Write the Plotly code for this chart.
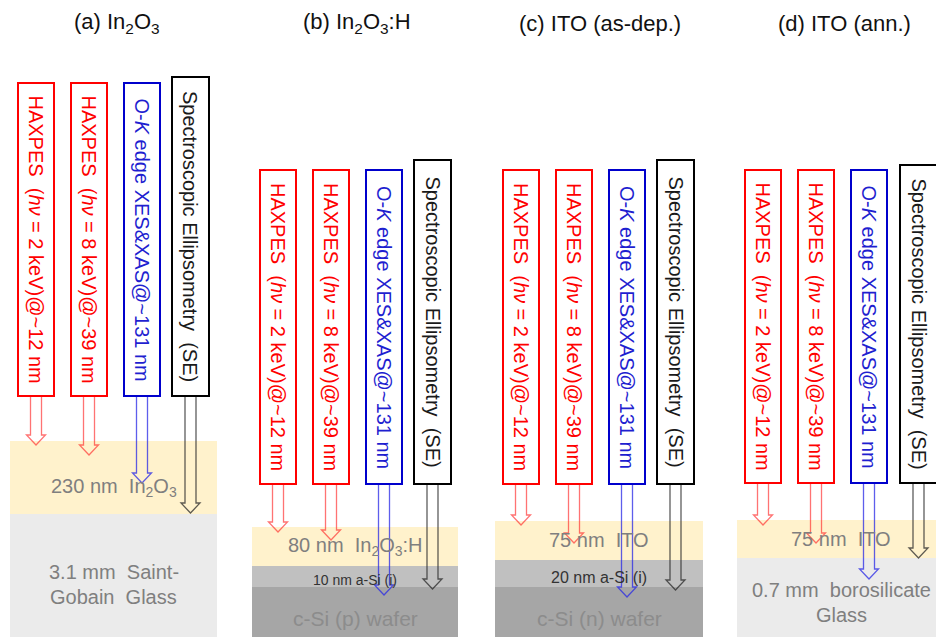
import plotly.graph_objects as go

W, H = 936, 637

# ---- content -------------------------------------------------------------
panel_titles = [
    "(a) In<sub>2</sub>O<sub>3</sub>",
    "(b) In<sub>2</sub>O<sub>3</sub>:H",
    "(c) ITO (as-dep.)",
    "(d) ITO (ann.)",
]

probe_labels = [
    "HAXPES  (<i>hν</i> = 2 keV)@~12 nm",
    "HAXPES  (<i>hν</i> = 8 keV)@~39 nm",
    "O-<i>K</i> edge XES&amp;XAS@~131 nm",
    "Spectroscopic Ellipsometry  (SE)",
]

layer_labels = [
    ["230 nm  In<sub>2</sub>O<sub>3</sub>", "3.1 mm  Saint-<br>Gobain  Glass"],
    ["80 nm  In<sub>2</sub>O<sub>3</sub>:H", "10 nm a-Si (i)", "c-Si (p) wafer"],
    ["75 nm  ITO", "20 nm a-Si (i)", "c-Si (n) wafer"],
    ["75 nm  ITO", "0.7 mm  borosilicate<br>Glass"],
]
layer_kinds = [
    ["tco", "glass"],
    ["tco", "asi", "csi"],
    ["tco", "asi", "csi"],
    ["tco", "glass"],
]
# layer top edges (schematic depth, px from top of canvas); stacks run to the bottom
layer_tops = [
    [441, 514],
    [527, 566, 587],
    [521, 560, 587],
    [520, 558],
]
# end depth of each probe arrow (same order as probe_labels)
probe_ends = [
    [445, 455, 483, 513],
    [532, 540, 595, 589],
    [525, 543, 597, 590],
    [525, 543, 579, 558],
]

# ---- layout / style -----------------------------------------------------
panel_x0 = [0, 242, 485, 727]
title_x = [117, 357, 600, 844]
stack_span = [(10, 217), (252, 458), (495, 703), (737, 950)]
box_left = [18, 71, 124, 172]
box_w = [36, 36, 36, 37]
box_top = [83, 170, 170, 170]
box_top_se = [77, 160, 160, 165]
box_bottom = [396, 484, 484, 483]
label_y = [
    [487, [572, 597]],
    [546, 580, 618],
    [540, 577, 618],
    [539, [590, 615]],
]

FONT = "Liberation Sans, Arial, sans-serif"
kind_fill = {"tco": "#fff2cc", "glass": "#ebebeb", "asi": "#c0c0c0", "csi": "#a6a6a6"}
kind_text = {"tco": ("#7f7f7f", 20), "glass": ("#7f7f7f", 20),
             "asi": ("#333333", 14), "csi": ("#8c8c8c", 21)}
box_line = ["#ff0000", "#ff0000", "#0000cc", "#000000"]
box_text = ["#ff0000", "#ff0000", "#1f1fd0", "#1a1a1a"]
arrow_col = ["rgba(255,40,40,0.65)", "rgba(255,40,40,0.65)",
             "rgba(40,40,230,0.75)", "rgba(40,40,40,0.75)"]

shapes, annotations = [], []

for p in range(4):
    ox = panel_x0[p]

    # title
    annotations.append(dict(x=title_x[p], y=23, text=panel_titles[p], showarrow=False,
                            xanchor="center", yanchor="middle",
                            font=dict(size=22, color="#111111", family=FONT)))

    # sample layer stack
    x0, x1 = stack_span[p]
    tops = layer_tops[p]
    for i, top in enumerate(tops):
        bot = tops[i + 1] if i + 1 < len(tops) else H
        kind = layer_kinds[p][i]
        shapes.append(dict(type="rect", x0=x0, x1=x1, y0=top, y1=bot, layer="below",
                           line=dict(width=0), fillcolor=kind_fill[kind]))
        col, size = kind_text[kind]
        if kind == "asi" and p == 2:
            size = 16
        ly = label_y[p][i]
        cx = (x0 + min(x1, W)) / 2 if p < 3 else 841
        if isinstance(ly, list):
            for line_txt, yy in zip(layer_labels[p][i].split("<br>"), ly):
                annotations.append(dict(x=cx, y=yy, text=line_txt, showarrow=False,
                                        xanchor="center", yanchor="middle",
                                        font=dict(size=size, color=col, family=FONT)))
        else:
            annotations.append(dict(x=cx, y=ly, text=layer_labels[p][i], showarrow=False,
                                    xanchor="center", yanchor="middle",
                                    font=dict(size=size, color=col, family=FONT)))

    # probe boxes and arrows
    for k in range(4):
        bx0 = ox + box_left[k] + (1 if (p == 3 and k == 3) else 0)
        bx1 = bx0 + box_w[k]
        cx = (bx0 + bx1) / 2
        top = box_top_se[p] if k == 3 else box_top[p]
        bot = box_bottom[p]
        tip = probe_ends[p][k]
        hs, hh, hl = 5.5, 9.5, 10
        path = (f"M {cx-hs},{bot} L {cx-hs},{tip-hl} L {cx-hh},{tip-hl} L {cx},{tip} "
                f"L {cx+hh},{tip-hl} L {cx+hs},{tip-hl} L {cx+hs},{bot}")
        shapes.append(dict(type="path", path=path, line=dict(color=arrow_col[k], width=1.3),
                           fillcolor="rgba(0,0,0,0)", layer="above"))
        shapes.append(dict(type="rect", x0=bx0, x1=bx1, y0=top, y1=bot, layer="above",
                           line=dict(color=box_line[k], width=2), fillcolor="white"))
        annotations.append(dict(x=cx, y=(top + bot) / 2, text=probe_labels[k], showarrow=False,
                                textangle=90, xanchor="center", yanchor="middle",
                                font=dict(size=20, color=box_text[k], family=FONT)))

fig = go.Figure()
fig.update_layout(
    width=W, height=H, margin=dict(l=0, r=0, t=0, b=0),
    paper_bgcolor="white", plot_bgcolor="white",
    xaxis=dict(range=[0, W], visible=False, fixedrange=True),
    yaxis=dict(range=[H, 0], visible=False, fixedrange=True),
    shapes=shapes, annotations=annotations, showlegend=False,
)
fig.write_html("out.html")
